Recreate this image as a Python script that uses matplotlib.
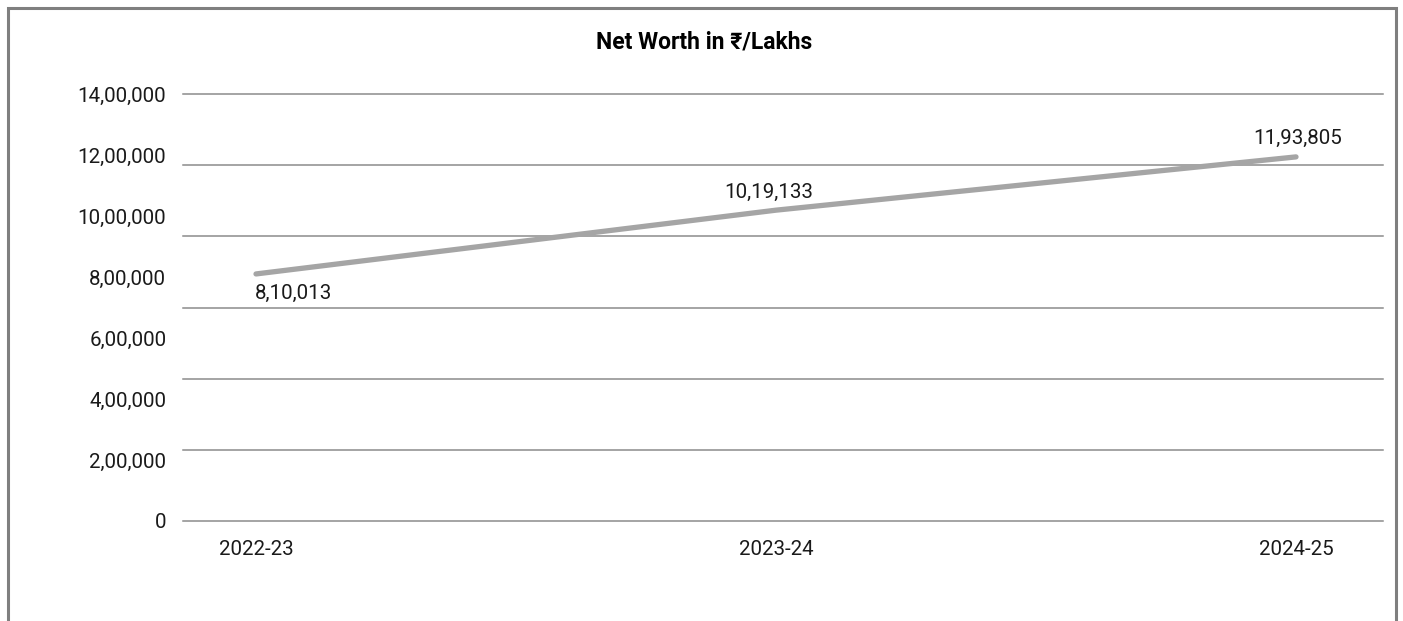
import matplotlib
matplotlib.use("Agg")
import matplotlib.pyplot as plt
from matplotlib.patches import Rectangle
import numpy as np

plt.rcParams['font.family'] = ['Roboto', 'DejaVu Sans']

# Data
categories = ["2022-23", "2023-24", "2024-25"]
net_worth = [810013, 1019133, 1193805]
value_labels = ["8,10,013", "10,19,133", "11,93,805"]
ytick_values = [0, 200000, 400000, 600000, 800000, 1000000, 1200000, 1400000]
ytick_labels = ["0", "2,00,000", "4,00,000", "6,00,000", "8,00,000",
                "10,00,000", "12,00,000", "14,00,000"]
title = "Net Worth in \u20b9/Lakhs"

W, H = 1403, 621
fig = plt.figure(figsize=(W / 100, H / 100), dpi=100)
ax = fig.add_axes([183 / W, 1 - 521 / H, 1200 / W, (521 - 94) / H])

x = np.arange(len(categories))
ax.plot(x, net_worth, color='#a5a5a5', lw=3.8, solid_capstyle='round', zorder=3)

ax.set_xlim(-0.1404, 2.1673)
ax.set_ylim(0, 1400000)

# y labels (major ticks, no grid) and gridlines (minor ticks)
ax.yaxis.remove_overlapping_locs = False
ax.set_yticks(ytick_values)
ax.set_yticklabels(ytick_labels)
ax.set_yticks(np.linspace(0, 1400000, 7), minor=True)
ax.yaxis.grid(True, which='minor', color='#8c8c8c', lw=1.1, clip_on=False)
ax.yaxis.grid(False, which='major')
ax.tick_params(axis='y', which='both', length=0, pad=12, labelsize=14.8, colors='#1a1a1a')
ax.set_xticks(x)
ax.set_xticklabels(categories)
ax.tick_params(axis='x', length=0, pad=14, labelsize=14.8, colors='#1a1a1a')
for s in ax.spines.values():
    s.set_visible(False)
ax.set_axisbelow(True)

offsets = [(27, -14), (-5, 13), (1, 13)]
for xi, v, lab, off in zip(x, net_worth, value_labels, offsets):
    ax.annotate(lab, (xi, v), xytext=off, textcoords='offset points',
                ha='center', va='center', fontsize=14.8, color='#1a1a1a')

fig.text(704 / W, 1 - 42 / H, title, ha='center', va='center',
         fontsize=16.5, fontweight='bold', color='#000000')

fig.patches.append(Rectangle((8 / W, -0.1), (1396 - 8) / W, 1.1 - 8 / H,
                             transform=fig.transFigure, fill=False,
                             ec='#7f7f7f', lw=2.2))

fig.savefig('out.png', dpi=100)
